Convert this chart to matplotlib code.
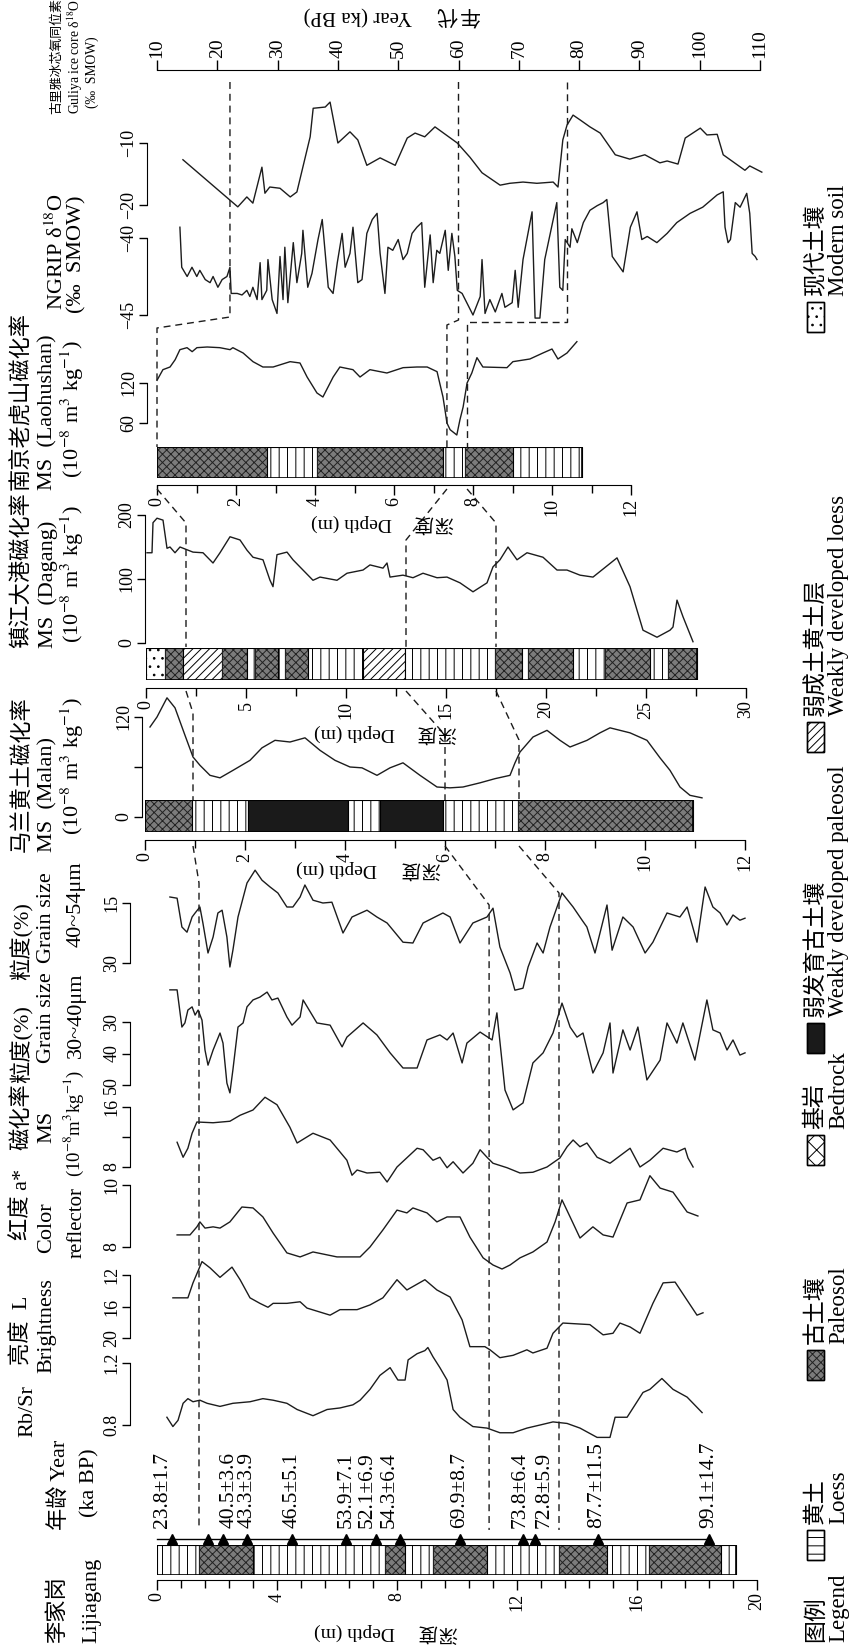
import matplotlib
matplotlib.use("Agg")
import matplotlib.pyplot as plt
from matplotlib.patches import Rectangle
from matplotlib.lines import Line2D
from matplotlib.ticker import MultipleLocator

plt.rcParams["font.family"] = ["Liberation Serif", "Noto Sans CJK SC"]
plt.rcParams["mathtext.fontset"] = "stix"
plt.rcParams["hatch.linewidth"] = 0.7

W, H = 849, 1645
INK = "#1c1c1c"

# ---------------- data ----------------
# Guliya ice core d18O  (age ka, permil)
guliya = [(14.3, -12.7), (23.4, -20.3), (24.9, -18.7), (25.9, -19.7), (27.4, -13.9), (27.9, -18.1),
          (28.7, -17.1), (30.4, -17.3), (32.1, -18.7), (33.2, -17.9), (35.4, -9.0), (35.9, -4.4),
          (37.9, -4.2), (38.7, -3.4), (40.0, -10.0), (42.0, -8.2), (43.3, -9.5), (44.8, -13.6),
          (47.0, -12.4), (49.5, -13.6), (51.5, -9.2), (52.8, -8.4), (54.4, -9.0), (56.1, -7.4),
          (59.8, -10.0), (61.9, -12.3), (63.9, -14.8), (66.9, -16.8), (68.5, -16.5), (70.7, -16.3),
          (73.0, -16.5), (75.7, -16.3), (76.5, -17.1), (77.3, -9.5), (78.0, -7.1), (79.0, -5.5),
          (80.2, -6.3), (81.8, -7.4), (83.5, -8.4), (86.0, -11.9), (88.4, -12.6), (90.9, -11.9),
          (93.4, -13.2), (94.6, -12.9), (96.4, -13.4), (97.6, -9.2), (100.1, -7.6), (101.2, -8.7),
          (102.9, -8.6), (103.9, -11.9), (107.5, -14.4), (108.3, -13.7), (110.3, -14.7)]

# NGRIP d18O (age ka, permil)
ngrip = [(13.8, -39.3), (14.1, -41.9), (15.0, -42.5), (15.8, -41.9), (16.6, -42.5), (17.1, -42.1),
         (18.0, -42.7), (18.8, -42.9), (19.3, -42.5), (20.1, -43.2), (20.8, -42.7), (21.6, -42.5),
         (22.1, -41.9), (22.3, -43.6), (23.3, -43.6), (24.1, -43.7), (24.9, -43.4), (25.4, -43.8),
         (25.9, -43.2), (26.6, -44.0), (27.1, -41.6), (27.4, -44.0), (28.2, -43.4), (28.4, -41.4),
         (29.1, -44.0), (29.9, -44.9), (30.4, -41.2), (30.9, -44.0), (31.2, -40.6), (31.7, -44.2),
         (32.6, -40.3), (33.2, -42.9), (34.0, -41.0), (34.2, -39.5), (35.0, -43.2), (35.7, -42.3),
         (36.7, -40.1), (37.4, -38.8), (38.4, -43.2), (39.2, -43.6), (39.9, -41.6), (40.7, -39.7),
         (41.2, -41.9), (42.0, -41.0), (42.5, -39.3), (43.3, -42.9), (44.0, -42.7), (44.8, -39.7),
         (45.7, -38.8), (46.5, -38.4), (47.0, -41.0), (47.8, -43.6), (48.3, -40.6), (49.1, -40.8),
         (50.0, -40.1), (50.8, -41.4), (51.5, -41.0), (52.3, -39.7), (53.1, -39.3), (53.9, -39.0),
         (54.4, -43.2), (55.3, -39.8), (55.8, -42.9), (56.4, -40.8), (56.9, -41.0), (57.8, -39.5),
         (58.3, -42.1), (58.9, -39.7), (59.4, -41.2), (59.8, -43.4), (60.6, -43.6), (61.5, -44.3),
         (62.4, -45.0), (63.6, -43.8), (63.9, -41.4), (64.4, -44.9), (65.2, -44.0), (66.1, -44.8),
         (67.2, -43.6), (67.7, -44.5), (68.9, -44.2), (69.4, -42.1), (69.9, -44.5), (70.7, -41.4),
         (72.2, -38.3), (72.7, -45.2), (73.5, -45.2), (74.3, -41.4), (76.3, -37.7), (76.8, -43.2),
         (77.3, -43.4), (77.7, -40.1), (78.5, -40.6), (78.8, -39.4), (79.7, -40.3), (80.7, -39.0),
         (81.8, -38.2), (83.0, -37.9), (84.0, -37.7), (84.6, -37.5), (85.5, -41.2), (87.3, -42.2),
         (88.5, -39.3), (89.6, -38.3), (90.4, -40.1), (91.3, -39.9), (92.9, -40.3), (94.6, -39.7),
         (96.2, -39.0), (98.4, -38.4), (100.5, -38.0), (102.9, -37.2), (103.9, -37.0), (104.2, -39.3),
         (104.7, -40.3), (105.1, -40.1), (105.9, -37.7), (106.7, -38.0), (107.8, -37.1), (108.3, -38.4),
         (108.7, -41.0), (109.2, -41.2), (109.5, -41.4)]

# Laohushan MS (depth m, 1e-8 m3/kg)
laohushan = [(0.0, 124), (0.15, 140), (0.33, 144), (0.46, 155), (0.58, 170), (0.76, 173), (0.89, 167),
             (1.01, 173), (1.27, 174), (1.59, 173), (1.85, 170), (1.92, 173), (2.18, 165), (2.43, 152),
             (2.68, 144), (2.94, 144), (3.37, 152), (3.62, 150), (3.8, 129), (4.05, 105), (4.2, 99),
             (4.46, 129), (4.63, 144), (4.96, 140), (5.14, 129), (5.39, 140), (5.82, 135), (6.23, 143),
             (6.58, 144), (6.84, 144), (7.09, 137), (7.24, 99), (7.29, 80), (7.34, 60), (7.42, 50),
             (7.59, 42), (7.67, 65), (7.75, 84), (7.85, 120), (7.97, 135), (8.1, 158), (8.25, 144),
             (8.86, 143), (9.01, 152), (9.44, 156), (9.77, 165), (10.0, 171), (10.15, 156),
             (10.38, 165), (10.63, 182)]

# Dagang MS
dagang = [(0.05, 141), (0.3, 141), (0.35, 188), (0.55, 195), (0.85, 192), (1.05, 148), (1.2, 150),
          (1.45, 141), (1.7, 150), (2.35, 142), (2.85, 141), (3.35, 125), (3.7, 141), (4.2, 166),
          (4.7, 161), (5.05, 145), (5.35, 134), (5.85, 130), (6.2, 98), (6.35, 88), (6.55, 138),
          (7.05, 142), (7.35, 130), (8.35, 98), (8.7, 103), (9.55, 98), (10.05, 109), (10.85, 114),
          (11.2, 122), (11.85, 117), (12.05, 125), (12.2, 103), (12.85, 106), (13.35, 102),
          (13.85, 109), (14.55, 102), (15.05, 103), (15.7, 94), (16.35, 80), (16.7, 87), (17.05, 94),
          (17.35, 119), (17.7, 130), (18.1, 150), (18.55, 130), (19.05, 141), (19.85, 134),
          (20.55, 114), (21.05, 114), (21.7, 106), (22.35, 103), (23.55, 133), (24.2, 88),
          (24.85, 20), (25.55, 9), (26.2, 20), (26.35, 25), (26.55, 67), (26.85, 41), (27.35, 2)]

# Malan loess MS
malan = [(0.1, 108), (0.24, 120), (0.44, 143), (0.6, 131), (0.8, 98), (0.96, 72), (1.1, 62), (1.3, 50),
         (1.5, 47), (1.76, 56), (2.1, 68), (2.34, 83), (2.6, 92), (2.9, 90), (3.2, 95), (3.5, 80),
         (3.8, 68), (4.1, 60), (4.34, 59), (4.64, 50), (4.9, 59), (5.16, 65), (5.5, 50), (5.84, 36),
         (6.1, 35), (6.36, 36), (6.7, 41), (7.0, 46), (7.3, 50), (7.4, 65), (7.5, 78), (7.76, 96),
         (8.04, 104), (8.3, 92), (8.5, 84), (8.84, 92), (9.1, 101), (9.3, 107), (9.7, 101),
         (10.04, 92), (10.3, 71), (10.5, 56), (10.7, 36), (10.9, 26), (11.14, 23)]

# Lijiagang: grain size 40-54 um (%)
grain_40_54 = [(0.43, 13.5), (0.67, 13.8), (0.83, 21.0), (1.0, 22.3), (1.17, 18.5), (1.27, 17.5),
               (1.43, 16.0), (1.53, 20.0), (1.7, 27.5), (1.87, 23.5), (2.03, 17.5), (2.17, 16.8),
               (2.33, 23.5), (2.43, 31.0), (2.53, 26.8), (2.7, 18.5), (3.0, 10.0), (3.27, 6.8),
               (3.5, 9.3), (3.77, 11.0), (4.03, 12.5), (4.33, 16.0), (4.53, 16.0), (4.77, 13.5),
               (4.93, 10.5), (5.2, 14.3), (5.53, 15.0), (5.83, 14.8), (6.2, 22.5), (6.5, 18.5),
               (7.0, 16.8), (7.33, 18.5), (7.67, 20.0), (8.2, 24.8), (8.53, 25.0), (8.87, 20.0),
               (9.53, 17.5), (9.77, 18.5), (10.1, 25.0), (10.53, 20.0), (11.0, 18.5), (11.2, 16.3),
               (11.43, 26.0), (11.77, 32.5), (11.93, 36.8), (12.2, 36.3), (12.37, 31.0), (12.67, 25.0),
               (12.87, 27.5), (13.1, 21.0), (13.5, 12.5), (13.87, 16.0), (14.17, 19.3), (14.33, 21.0),
               (14.6, 27.5), (15.0, 15.5), (15.17, 26.8), (15.53, 18.5), (15.87, 21.0), (16.27, 27.5),
               (16.53, 24.8), (17.0, 17.5), (17.43, 18.5), (17.67, 16.0), (18.0, 24.8), (18.27, 11.0),
               (18.53, 16.0), (18.77, 17.5), (19.0, 20.5), (19.2, 18.0), (19.43, 19.3), (19.6, 18.8)]

# Lijiagang: grain size 30-40 um (%)
grain_30_40 = [(0.43, 19.8), (0.67, 19.8), (0.83, 31.6), (0.93, 30.3), (1.03, 26.2), (1.17, 25.2),
               (1.27, 27.8), (1.37, 26.2), (1.5, 29.4), (1.6, 38.9), (1.7, 43.7), (1.87, 38.9),
               (2.1, 33.5), (2.2, 36.7), (2.33, 49.4), (2.43, 52.5), (2.53, 45.2), (2.7, 31.6),
               (2.87, 30.3), (3.0, 25.2), (3.2, 23.0), (3.43, 22.1), (3.67, 20.5), (3.83, 23.0),
               (4.03, 22.4), (4.33, 28.4), (4.5, 31.0), (4.77, 28.4), (4.87, 23.0), (5.33, 30.3),
               (5.77, 31.0), (6.17, 37.9), (6.33, 34.8), (6.87, 30.3), (7.33, 34.1), (7.77, 39.8),
               (8.2, 44.6), (8.67, 44.6), (9.0, 35.7), (9.43, 34.1), (9.67, 35.7), (9.87, 33.5),
               (10.17, 43.0), (10.33, 36.7), (10.77, 33.2), (11.17, 35.7), (11.33, 27.1), (11.6, 51.6),
               (11.87, 57.9), (12.2, 55.7), (12.53, 43.0), (12.87, 39.8), (13.2, 33.5), (13.5, 24.0),
               (13.77, 31.6), (14.0, 34.8), (14.2, 33.5), (14.53, 46.2), (14.87, 39.8), (15.1, 30.3),
               (15.2, 46.2), (15.53, 32.5), (15.77, 38.9), (16.03, 31.6), (16.33, 48.4), (16.77, 42.1),
               (17.0, 30.3), (17.33, 36.7), (17.53, 30.3), (17.93, 42.1), (18.33, 23.0), (18.53, 32.5),
               (18.77, 33.5), (19.0, 38.9), (19.2, 35.7), (19.43, 40.5), (19.6, 39.8)]

# Lijiagang: magnetic susceptibility
lj_ms = [(0.67, 11.3), (0.87, 9.3), (1.03, 10.5), (1.17, 12.5), (1.33, 14.0), (1.87, 13.9), (2.43, 14.1),
         (2.77, 14.9), (3.2, 15.6), (3.6, 17.3), (4.0, 16.3), (4.43, 13.3), (4.67, 11.2), (5.2, 12.5),
         (5.77, 11.6), (6.33, 8.9), (6.5, 6.9), (6.67, 7.6), (7.0, 7.2), (7.43, 7.3), (7.67, 6.0),
         (8.0, 8.0), (8.67, 10.5), (8.87, 10.3), (9.2, 8.9), (9.43, 9.3), (9.67, 7.9), (9.87, 8.7),
         (10.2, 7.2), (10.53, 8.5), (10.77, 10.3), (11.0, 9.3), (11.2, 8.5), (11.67, 7.9), (12.1, 7.2),
         (12.53, 7.3), (13.0, 8.0), (13.43, 9.2), (13.67, 10.7), (13.87, 11.6), (14.1, 10.7),
         (14.33, 11.2), (14.67, 9.3), (15.1, 8.5), (15.77, 10.5), (16.1, 8.0), (16.43, 8.9),
         (16.87, 10.5), (17.33, 10.0), (17.6, 10.5), (17.7, 9.2), (17.87, 8.0)]

# Lijiagang: redness a*
color_a = [(0.67, 8.39), (1.1, 8.39), (1.33, 8.65), (1.43, 8.81), (1.6, 8.61), (1.87, 8.65), (2.1, 8.61),
           (2.43, 8.81), (2.83, 9.29), (3.2, 9.26), (3.53, 8.97), (3.87, 8.45), (4.33, 7.81),
           (4.77, 7.68), (5.2, 7.84), (6.0, 7.68), (6.77, 7.68), (7.1, 8.0), (7.53, 8.55), (8.0, 9.19),
           (8.33, 9.10), (8.53, 9.26), (9.0, 9.10), (9.33, 8.81), (9.67, 8.97), (10.1, 8.97),
           (10.43, 8.32), (10.87, 7.65), (11.2, 7.42), (11.5, 7.29), (11.77, 7.42), (12.1, 7.65),
           (12.53, 7.84), (13.0, 8.16), (13.27, 8.81), (13.5, 9.52), (13.77, 8.97), (14.1, 8.29),
           (14.53, 8.65), (14.87, 8.39), (15.2, 8.32), (15.67, 9.42), (16.1, 9.52), (16.43, 10.3),
           (16.77, 9.90), (17.2, 9.77), (17.67, 9.13), (18.03, 9.0)]

# Lijiagang: brightness L
bright_L = [(0.53, 14.9), (1.03, 14.9), (1.2, 13.0), (1.5, 10.3), (1.77, 11.1), (2.1, 12.3), (2.5, 11.0),
            (2.77, 12.6), (3.1, 14.9), (3.43, 15.6), (3.7, 16.1), (3.87, 15.6), (4.33, 15.6),
            (4.77, 15.4), (5.0, 16.2), (5.77, 17.1), (6.1, 16.4), (6.67, 16.4), (7.1, 15.8),
            (7.53, 14.9), (8.0, 12.6), (8.33, 13.9), (8.93, 12.6), (9.33, 13.9), (9.77, 14.8),
            (10.17, 17.7), (10.43, 21.1), (10.93, 21.1), (11.1, 21.5), (11.43, 22.5), (11.87, 22.2),
            (12.33, 21.5), (12.53, 21.9), (13.0, 21.3), (13.2, 19.4), (13.53, 18.1), (14.43, 18.3),
            (14.87, 19.6), (15.2, 19.4), (15.43, 18.1), (15.77, 18.6), (16.1, 19.4), (16.53, 15.6),
            (16.87, 13.0), (17.27, 12.9), (17.6, 14.8), (18.0, 17.1), (18.2, 16.8)]

# Lijiagang: Rb/Sr
rb_sr = [(0.33, 0.85), (0.53, 0.79), (0.7, 0.83), (0.87, 0.94), (1.03, 0.97), (1.2, 0.95), (1.43, 0.96),
         (1.67, 0.94), (2.1, 0.92), (2.53, 0.94), (3.1, 0.95), (3.53, 0.97), (3.87, 0.96), (4.33, 0.94),
         (4.67, 0.90), (5.2, 0.86), (5.67, 0.90), (6.1, 0.91), (6.53, 0.93), (6.77, 0.96), (7.1, 1.03),
         (7.43, 1.12), (7.77, 1.17), (8.03, 1.09), (8.27, 1.09), (8.37, 1.22), (8.67, 1.26),
         (8.93, 1.28), (9.03, 1.30), (9.2, 1.24), (9.43, 1.17), (9.67, 1.09), (9.87, 0.90),
         (10.1, 0.85), (10.53, 0.79), (11.0, 0.78), (11.43, 0.75), (11.87, 0.75), (12.33, 0.78),
         (12.77, 0.80), (13.2, 0.82), (13.67, 0.81), (14.1, 0.78), (14.67, 0.72), (15.1, 0.72),
         (15.27, 0.85), (15.67, 0.85), (16.2, 1.01), (16.43, 1.03), (16.83, 1.10), (17.2, 1.03),
         (17.67, 0.98), (18.17, 0.88)]

# stratigraphic columns: (top depth, bottom depth, unit)
lj_layers = [(0.0, 1.4, "loess"), (1.4, 3.2, "paleosol"), (3.2, 7.6, "loess"), (7.6, 8.27, "paleosol"),
             (8.27, 9.2, "loess"), (9.2, 11.0, "paleosol"), (11.0, 13.4, "loess"),
             (13.4, 15.0, "paleosol"), (15.0, 16.4, "loess"), (16.4, 18.8, "paleosol"),
             (18.8, 19.3, "loess")]
ml_layers = [(0.0, 0.94, "paleosol"), (0.94, 2.06, "loess"), (2.06, 4.06, "weak_paleosol"),
             (4.06, 4.7, "loess"), (4.7, 5.96, "weak_paleosol"), (5.96, 7.46, "loess"),
             (7.46, 10.96, "paleosol")]
dg_layers = [(0.0, 0.95, "modern"), (0.95, 1.85, "paleosol"), (1.85, 3.8, "weak_loess"),
             (3.8, 5.05, "paleosol"), (5.05, 5.45, "loess"), (5.45, 6.6, "paleosol"),
             (6.6, 6.95, "loess"), (6.95, 8.1, "paleosol"), (8.1, 10.85, "loess"),
             (10.85, 12.95, "weak_loess"), (12.95, 17.45, "loess"), (17.45, 18.8, "paleosol"),
             (18.8, 19.1, "loess"), (19.1, 21.35, "paleosol"), (21.35, 22.95, "loess"),
             (22.95, 25.2, "paleosol"), (25.2, 26.1, "loess"), (26.1, 27.55, "paleosol")]
lh_layers = [(0.0, 2.78, "paleosol"), (2.78, 4.05, "loess"), (4.05, 7.24, "paleosol"),
             (7.24, 7.8, "loess"), (7.8, 9.0, "paleosol"), (9.0, 10.76, "loess")]

# OSL ages at Lijiagang
age_depth = [0.5, 1.7, 2.2, 3.0, 4.5, 6.3, 7.3, 8.1, 10.1, 12.2, 12.6, 14.7, 18.4]
age_text = ["23.8±1.7", "40.5±3.6", "43.3±3.9", "46.5±5.1", "53.9±7.1", "52.1±6.9", "54.3±6.4",
            "69.9±8.7", "73.8±6.4", "72.8±5.9", "87.7±11.5", "99.1±14.7"]
age_text_depth = [0.2, 2.4, 3.0, 4.5, 6.3, 7.0, 7.75, 10.1, 12.1, 12.9, 14.65, 18.4]

# correlation ties: age (ka) and depth (m) in each section
tie_age = [22.1, 60.0, 78.0]
tie_lh = [0.0, 7.34, 7.85]
tie_dg = [2.0, 13.0, 17.5]
tie_ml = [0.96, 6.0, 7.48]
tie_lj = [1.4, 11.07, 13.4]

STYLE = {
    "loess": dict(facecolor="white", edgecolor="black", hatch="||"),
    "paleosol": dict(facecolor="#7c7c7c", edgecolor="#222222", hatch="xxxx"),
    "weak_paleosol": dict(facecolor="#1a1a1a", edgecolor="black"),
    "weak_loess": dict(facecolor="white", edgecolor="black", hatch="////"),
    "modern": dict(facecolor="white", edgecolor="black", hatch=".."),
    "bedrock": dict(facecolor="white", edgecolor="black", hatch="xx"),
}

fig = plt.figure(figsize=(W / 100, H / 100), dpi=100)


def box(left, right, top, bottom):
    # axes placed by a pixel box, y counted from the top of the page
    return fig.add_axes([left / W, 1 - bottom / H, (right - left) / W, (bottom - top) / H])


def curve_panel(left, right, top, bottom, xlim, ylim, ticks, labels, gap, data):
    ax = box(left, right, top, bottom)
    ax.set_xlim(*xlim)
    ax.set_ylim(*ylim)
    x, y = zip(*data)
    ax.plot(x, y, color=INK, lw=1.0, clip_on=False)
    ax.patch.set_visible(False)
    for s in ("top", "right", "bottom"):
        ax.spines[s].set_visible(False)
    ax.spines["left"].set_position(("outward", gap * 0.72))
    ax.spines["left"].set_bounds(min(ylim), max(ylim))
    ax.set_xticks([])
    ax.set_yticks(ticks)
    ax.set_yticklabels(labels)
    ax.tick_params(axis="y", direction="out", length=6, width=1, labelsize=13,
                   labelrotation=90, pad=1)
    for t in ax.get_yticklabels():
        t.set_va("center")
    return ax


def column(left, right, top, bottom, xmax, layers, major, minor, gap):
    ax = box(left, right, top, bottom)
    ax.set_xlim(0, xmax)
    ax.set_ylim(0, 1)
    for d0, d1, kind in layers:
        ax.add_patch(Rectangle((d0, 0), d1 - d0, 1, lw=0.8, **STYLE[kind]))
    ax.add_patch(Rectangle((0, 0), layers[-1][1], 1, fill=False, edgecolor="black", lw=1.2))
    for s in ("top", "right", "left"):
        ax.spines[s].set_visible(False)
    ax.spines["bottom"].set_position(("outward", gap * 0.72))
    ax.spines["bottom"].set_bounds(0, xmax)
    ax.xaxis.set_major_locator(MultipleLocator(major))
    ax.xaxis.set_minor_locator(MultipleLocator(minor))
    ax.tick_params(axis="x", which="major", direction="out", length=7, width=1,
                   labelsize=13, labelrotation=90, pad=2)
    ax.tick_params(axis="x", which="minor", direction="out", length=6, width=1)
    ax.set_yticks([])
    ax.patch.set_visible(False)
    return ax


# ---- top group: ice cores on an age scale ----
ax_gu = curve_panel(157, 760, 143, 205, (10, 110), (-20, -10), [-20, -10], ["−20", "−10"], 10, guliya)
ax_ng = curve_panel(157, 760, 238, 315, (10, 110), (-45, -40), [-45, -40], ["−45", "−40"], 10, ngrip)

ax_yr = box(157, 760, 70, 78)
ax_yr.set_xlim(10, 110)
ax_yr.patch.set_visible(False)
for s in ("bottom", "left", "right"):
    ax_yr.spines[s].set_visible(False)
ax_yr.set_yticks([])
ax_yr.xaxis.tick_top()
ax_yr.set_xticks(range(10, 111, 10))
ax_yr.tick_params(axis="x", direction="out", length=7, width=1, labelsize=14, labelrotation=90, pad=2)

# ---- Laohushan ----
ax_lh = curve_panel(157, 631, 383, 423, (0, 12), (60, 120), [60, 120], ["60", "120"], 10, laohushan)
ax_lhb = column(157, 631, 447, 478, 12, lh_layers, 2, 1, 7)

# ---- Dagang ----
ax_dg = curve_panel(146, 746, 515, 643, (0, 30), (0, 200), [0, 100, 200], ["0", "100", "200"], 1, dagang)
ax_dgb = column(146, 746, 648, 680, 30, dg_layers, 5, 2.5, 8)

# ---- Malan ----
ax_ml = curve_panel(145, 745, 717, 817, (0, 12), (0, 120), [0, 60, 120], ["0", "", "120"], 3, malan)
ax_mlb = column(145, 745, 800, 832, 12, ml_layers, 2, 1, 8)

# ---- Lijiagang ----
LJ = (157, 757)
ax_g2 = curve_panel(*LJ, 903, 963, (0, 20), (30, 15), [15, 30], ["15", "30"], 27, grain_40_54)
ax_g1 = curve_panel(*LJ, 1022, 1085, (0, 20), (50, 30), [30, 40, 50], ["30", "40", "50"], 27, grain_30_40)
ax_ms = curve_panel(*LJ, 1107, 1167, (0, 20), (8, 16), [8, 12, 16], ["8", "", "16"], 27, lj_ms)
ax_a = curve_panel(*LJ, 1185, 1247, (0, 20), (8, 10), [8, 10], ["8", "10"], 27, color_a)
ax_L = curve_panel(*LJ, 1275, 1338, (0, 20), (20, 12), [12, 16, 20], ["12", "16", "20"], 27, bright_L)
ax_rb = curve_panel(*LJ, 1363, 1425, (0, 20), (0.8, 1.2), [0.8, 1.2], ["0.8", "1.2"], 27, rb_sr)
ax_ljb = column(*LJ, 1545, 1575, 20, lj_layers, 4, 0.8, 5)

ax_ljb.plot([0, age_depth[-1]], [1.2, 1.2], color="black", lw=1.0, clip_on=False)
ax_ljb.plot(age_depth, [1.2] * len(age_depth), ls="none", marker="^", ms=6.5, color="black",
            clip_on=False)
for d, s in zip(age_text_depth, age_text):
    ax_ljb.text(d, 1.55, s, rotation=90, rotation_mode="anchor", ha="left", va="center",
                fontsize=15.5)

# ---- overlay in page pixels for labels, tie lines and legend ----
ov = fig.add_axes([0, 0, 1, 1])
ov.set_xlim(0, W)
ov.set_ylim(H, 0)
ov.axis("off")


def fx(ax, v):
    return ov.transData.inverted().transform(ax.transData.transform((v, 0)))[0]


def dashed(points):
    xs, ys = zip(*points)
    ov.add_line(Line2D(xs, ys, color=INK, lw=1.0, ls=(0, (5, 3.5))))


for i in range(3):
    xa = fx(ax_gu, tie_age[i])
    xl = fx(ax_lh, tie_lh[i])
    xd = fx(ax_dg, tie_dg[i])
    xm = fx(ax_ml, tie_ml[i])
    xj = fx(ax_g2, tie_lj[i])
    bend = [317, 320, 322][i]
    mid = [328, 325, 322][i]
    dashed([(xa, 82), (xa, bend), (xl, mid), (xl, 447)])
    dashed([(xl, 489), (xd, [523, 540, 523][i]), (xd, 647)])
    dashed([(xd, 691), (xm, [713, 735, 740][i]), (xm, 800)])
    dashed([(xm, 846), (xj, [883, 905, 893][i]), (xj, 1530)])

HEAD = 16


def header(x, y, s, size=HEAD):
    ov.text(x, y, s, rotation=90, rotation_mode="anchor", ha="left", va="center", fontsize=size)


UNIT = "(10$^{-8}$ m$^3$ kg$^{-1}$)"
header(57, 114, "古里雅冰芯氧同位素", 9.3)
header(75, 114, "Guliya ice core δ$^{18}$O", 9.8)
header(92, 108, "(‰  SMOW)", 9.8)
header(57, 310, "NGRIP δ$^{18}$O")
header(77, 313, "(‰  SMOW)")
header(22, 490, "南京老虎山磁化率")
header(48, 490, "MS  (Laohushan)")
header(72, 478, UNIT)
header(22, 648, "镇江大港磁化率")
header(48, 648, "MS  (Dagang)")
header(72, 643, UNIT)
header(22, 852, "马兰黄土磁化率")
header(48, 852, "MS  (Malan)")
header(72, 835, UNIT)
header(22, 980, "粒度(%)")
header(47, 963, "Grain size")
header(76, 947, "40~54μm")
header(22, 1083, "粒度(%)")
header(47, 1063, "Grain size")
header(76, 1058, "30~40μm")
header(22, 1150, "磁化率")
header(47, 1143, "MS")
header(74, 1177, "(10$^{-8}$m$^3$kg$^{-1}$)", 13.5)
header(22, 1240, "红度 a*")
header(47, 1253, "Color")
header(77, 1258, "reflector", 15)
header(22, 1365, "亮度  L")
header(47, 1373, "Brightness")
header(28, 1437, "Rb/Sr")
header(60, 1530, "年龄 Year")
header(90, 1517, "(ka BP)")
header(58, 1643, "李家岗")
header(92, 1643, "Lijiagang")


def flipped(x, y, s, size):
    ov.text(x, y, s, rotation=180, ha="center", va="center", fontsize=size)


def flipped_cjk(x, y, s, size, step):
    # upside-down CJK word, one glyph at a time, read from right to left
    for k, ch in enumerate(s):
        ov.text(x + (len(s) - 1) / 2 * step - k * step, y, ch, rotation=180, ha="center",
                va="center", fontsize=size, family="Noto Sans CJK SC")


flipped_cjk(458, 15, "年代", 15, 21)
flipped(358, 15, "Year (ka BP)", 15)
for xe, xz, y in [(352, 434, 523), (355, 437, 733), (337, 421, 869), (355, 438, 1632)]:
    flipped(xe, y, "Depth (m)", 14)
    flipped_cjk(xz, y, "深度", 14, 20)

# legend
legend_items = [("modern", "现代土壤", "Modern soil", 302),
                ("weak_loess", "弱成土黄土层", "Weakly developed loess", 722),
                ("weak_paleosol", "弱发育古土壤", "Weakly developed paleosol", 1023),
                ("bedrock", "基岩", "Bedrock", 1135),
                ("paleosol", "古土壤", "Paleosol", 1350),
                ("loess", "黄土", "Loess", 1530)]
for kind, zh, en, y0 in legend_items:
    st = dict(STYLE[kind])
    if kind == "loess":
        st["hatch"] = "--"
    ov.add_patch(Rectangle((807, y0), 17, 30, lw=1.0, **st))
    ov.add_patch(Rectangle((807, y0), 17, 30, fill=False, edgecolor="black", lw=1.0))
    header(816, y0 - 6, zh, 16.5)
    header(839, y0 - 6, en, 16.5)
header(816, 1642, "图例", 16.5)
header(839, 1642, "Legend", 16.5)

fig.savefig("out.png", dpi=100)
